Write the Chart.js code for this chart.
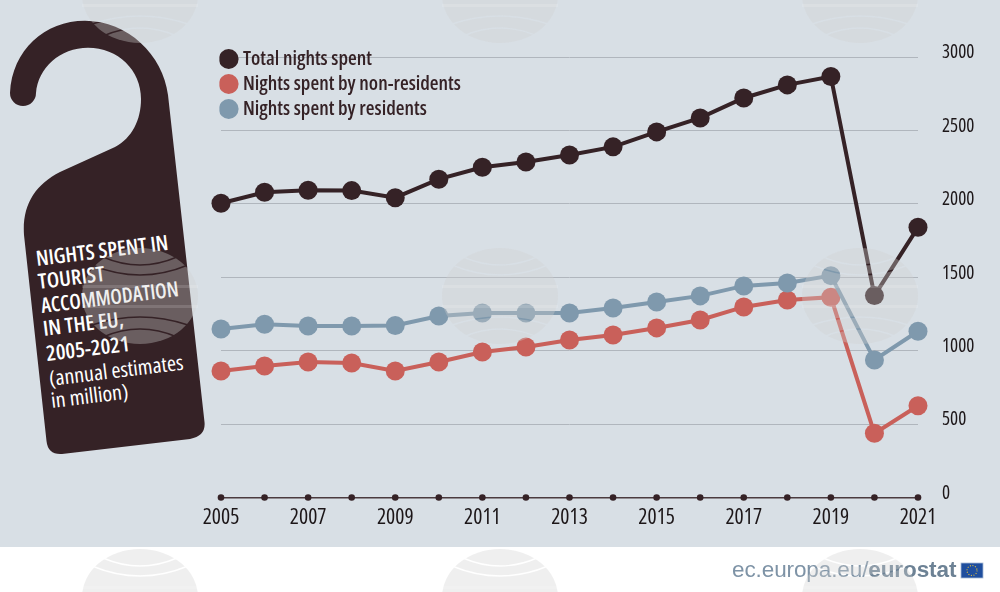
<!DOCTYPE html>
<html>
<head>
<meta charset="utf-8">
<script src="https://cdn.jsdelivr.net/npm/chart.js@4"></script>
<style>
html,body{margin:0;padding:0;background:#fff;width:1000px;height:592px;overflow:hidden}
#bg{position:absolute;left:0;top:0;width:1000px;height:547px;background:#d8dfe5}
svg{position:absolute;left:0;top:0}
#wrap{position:absolute;left:0;top:0;width:1000px;height:592px}
#foot{position:absolute;left:732px;top:556px;font:22.5px "Liberation Sans",sans-serif;color:#7e93a6;white-space:nowrap;letter-spacing:-.1px;line-height:28px}
#foot b{color:#6d8295;font-weight:700}
</style>
</head>
<body>
<div id="bg"></div>
<svg width="1000" height="592">
  <path d="M10 93 C12 50 45 20.7 85 20.7 C128 20.7 163 55 168 95 L204.5 422 Q206 436 190 439 L62 454 Q48 455 46.5 441 L24 235 C22 205 35 185 60 172 L115 147 C132 138 141 120 141 99 C141 70 118 47.7 88 47.7 C60 47.7 38 68 36 93 A13 13 0 0 1 10 93 Z" fill="#352226"/>
  <g fill="#fff" font-family="'Open Sans',sans-serif" font-size="21" style="font-stretch:75%" lengthAdjust="spacingAndGlyphs">
    <g font-weight="600">
      <text transform="translate(37,266) rotate(-7)" textLength="133" lengthAdjust="spacingAndGlyphs">NIGHTS SPENT IN</text>
      <text transform="translate(39,289) rotate(-7)" textLength="67" lengthAdjust="spacingAndGlyphs">TOURIST</text>
      <text transform="translate(42,313) rotate(-7)" textLength="138.4" lengthAdjust="spacingAndGlyphs">ACCOMMODATION</text>
      <text transform="translate(44,336) rotate(-7)" textLength="81" lengthAdjust="spacingAndGlyphs">IN THE EU,</text>
      <text transform="translate(47,361) rotate(-7)" textLength="84" lengthAdjust="spacingAndGlyphs">2005-2021</text>
    </g>
    <text transform="translate(50,386) rotate(-7)" textLength="135" lengthAdjust="spacingAndGlyphs">(annual estimates</text>
    <text transform="translate(52,408) rotate(-7)" textLength="77.6" lengthAdjust="spacingAndGlyphs">in million)</text>
  </g>
</svg>
<div id="wrap"><canvas id="c" width="1000" height="592"></canvas></div>
<div id="foot">ec.europa.eu/<b>eurostat</b></div>
<svg width="1000" height="592" style="pointer-events:none">
  <defs>
    <mask id="cut" maskUnits="userSpaceOnUse" x="-60" y="-50" width="120" height="100">
      <ellipse cx="0" cy="0" rx="58" ry="48" fill="#fff"/>
      <g fill="none" stroke="#000" stroke-width="1.4">
        <path d="M-37 -39 Q0 -23 37 -39"/>
        <path d="M-48 -31 Q0 -11 48 -31"/>
        <path d="M-48 29 Q0 13 48 29"/>
        <path d="M-37 41 Q0 25 37 41"/>
      </g>
    </mask>
    <g id="wm">
      <rect x="-60" y="-50" width="120" height="100" fill="rgb(210,210,210)" fill-opacity=".344" mask="url(#cut)"/>
      <rect x="-58" y="-11" width="116" height="3" fill="#fff" fill-opacity=".14"/>
      <rect x="-58" y="9" width="116" height="3" fill="#fff" fill-opacity=".14"/>
    </g>
  </defs>
  <use href="#wm" x="140" y="-5"/><use href="#wm" x="500" y="-5"/><use href="#wm" x="860" y="-5"/>
  <use href="#wm" x="140" y="296"/><use href="#wm" x="500" y="296"/><use href="#wm" x="860" y="296"/>
  <use href="#wm" x="140" y="597"/><use href="#wm" x="500" y="597"/><use href="#wm" x="860" y="597"/>
  <rect x="961" y="563" width="22" height="15" fill="#1f4e9e" stroke="#a9bbd4" stroke-width=".8"/>
  <circle cx="972" cy="570.5" r="5" fill="none" stroke="#e6c23a" stroke-width="1.1" stroke-dasharray="1 1.6"/>
</svg>
<script>
const years = ['2005','2006','2007','2008','2009','2010','2011','2012','2013','2014','2015','2016','2017','2018','2019','2020','2021'];
const totalNights = [2004,2079,2092,2090,2042,2168,2249,2285,2333,2388,2490,2585,2721,2810,2867,1375,1840];
const nonResidents = [862,896,923,916,862,923,991,1025,1073,1107,1155,1209,1298,1345,1364,437,625];
const residents = [1148,1180,1168,1168,1172,1236,1257,1257,1257,1291,1332,1373,1441,1461,1511,937,1132];
const axisDots = [0,0,0,0,0,0,0,0,0,0,0,0,0,0,0,0,0];
const yTicks = [0,500,1000,1500,2000,2500,3000];

const dark = '#352226', red = '#c9605a', blue = '#7f99ad';
const FONT = "'Open Sans',sans-serif";
function series(label, data, color, order){
  return {label, data, borderColor:color, backgroundColor:color, pointBackgroundColor:color,
    pointBorderColor:color, pointBorderWidth:0, pointRadius:9.5, borderWidth:4, pointStyle:'circle', tension:0, clip:false, order};
}
const placeLegend = {
  id:'placeLegend',
  afterLayout(chart){
    const l = chart.legend, w = l.right - l.left, h = l.bottom - l.top;
    l.left = 219.4; l.top = 44; l.right = l.left + w; l.bottom = l.top + h;
  }
};
Chart.defaults.font.family = FONT;
const legendOrder = ['Total nights spent','Nights spent by non-residents','Nights spent by residents'];
new Chart(document.getElementById('c'), {
  type:'line',
  data:{labels:years, datasets:[
    series(legendOrder[0], totalNights, dark, 1),
    series(legendOrder[1], nonResidents, red, 3),
    series(legendOrder[2], residents, blue, 2),
    {label:'axis', data:axisDots, showLine:false, pointRadius:3.3, pointBorderWidth:0, pointBackgroundColor:dark, borderColor:dark, clip:false, order:4}
  ]},
  plugins:[placeLegend],
  options:{
    responsive:false, animation:false, devicePixelRatio:1,
    layout:{padding:{left:221,top:57,right:0,bottom:0}},
    plugins:{
      tooltip:{enabled:false},
      title:{display:false},
      legend:{
        display:true, position:'chartArea', align:'start',
        labels:{
          usePointStyle:true, boxWidth:8.6, boxHeight:14, padding:5, color:dark,
          font:{family:FONT,size:20,weight:'condensed 600'},
          filter:i=>i.text!=='axis',
          sort:(a,b)=>legendOrder.indexOf(a.text)-legendOrder.indexOf(b.text)
        }
      }
    },
    scales:{
      x:{
        type:'category', offset:false,
        afterFit(s){s.height=94.5;},
        grid:{display:false}, border:{display:false},
        ticks:{autoSkip:false,maxRotation:0,padding:-1,color:'#1c1618',
          font:{family:FONT,size:21.5,weight:'condensed 400'},
          callback(v,i){return i%2===0?years[i]:'';}}
      },
      y:{
        position:'right', min:0, max:3000,
        afterFit(s){s.width=82;},
        afterBuildTicks(s){s.ticks=yTicks.map(v=>({value:v}));},
        grid:{drawTicks:false,lineWidth:c=>c.tick&&c.tick.value===0?1.6:1,
              color:c=>c.tick&&c.tick.value===0?'#4b3b3f':'#b0b6bd'},
        border:{display:false},
        ticks:{padding:24,labelOffset:-4,color:'#1c1618',font:{family:FONT,size:19,weight:'condensed 400'},
          callback:v=>String(v)}
      }
    }
  }
});
</script>
</body>
</html>
